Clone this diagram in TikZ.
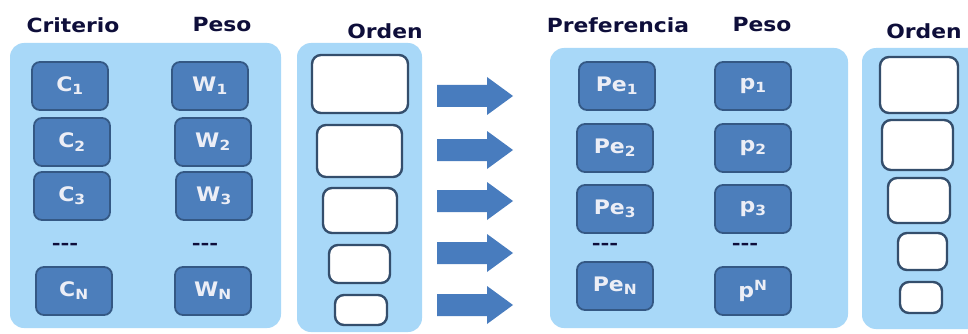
\documentclass[tikz,border=0pt]{standalone}
\usepackage{fontspec}
\setmainfont{DejaVu Sans}
\definecolor{panelblue}{RGB}{168,216,248}
\definecolor{boxblue}{RGB}{76,126,187}
\definecolor{boxedge}{RGB}{52,88,132}
\definecolor{whiteedge}{RGB}{52,78,108}
\definecolor{titlecol}{RGB}{14,14,58}
\definecolor{labcol}{RGB}{236,238,246}
\definecolor{arrowblue}{RGB}{72,124,190}
\tikzset{
  panel/.style={fill=panelblue, draw=none, rounded corners=14pt},
  darkbox/.style={fill=boxblue, draw=boxedge, line width=1.8pt, rounded corners=8pt,
    minimum width=76pt, minimum height=48pt, inner sep=0pt},
  lab/.style={text=labcol, font=\bfseries\fontsize{20}{22}\selectfont, inner sep=0pt, xscale=1.1},
  ordbox/.style={fill=white, draw=whiteedge, line width=2.4pt, rounded corners=9pt, inner sep=0pt},
  title/.style={text=titlecol, font=\bfseries\fontsize{19.5}{22}\selectfont, inner sep=0pt, xscale=1.12},
  dots/.style={text=titlecol, font=\bfseries\fontsize{17}{19}\selectfont, inner sep=0pt, xscale=1.25},
  pics/fatarrow/.style={code={
    \fill[arrowblue] (0,-11) -- (50,-11) -- (50,-19) -- (76,0) -- (50,19) -- (50,11) -- (0,11) -- cycle;}}
}
\newcommand{\dbox}[4]{%
  \node[darkbox] (#1) at (#2,#3) {};
  \node[lab] (#1l) at (#1.center) {#4};}
\begin{document}
\begin{tikzpicture}[x=1pt,y=-1pt]
\useasboundingbox (0,0) rectangle (968,334);
\fill[white] (0,0) rectangle (968,334);
% panels
\path[panel] (10,43) rectangle (281,328);
\path[panel] (297,43) rectangle (422,332);
\path[panel] (550,48) rectangle (848,328);
\path[panel] (862,48) rectangle (990,329);
% titles
\node[title] (tcrit) at (73,25) {Criterio};
\node[title] (tpeso1) at (222,25) {Peso};
\node[title] (torden1) at (385,31) {Orden};
\node[title] (tpref) at (618,25) {Preferencia};
\node[title] (tpeso2) at (762,25) {Peso};
\node[title] (torden2) at (924,31) {Orden};
% criterio column
\dbox{c1}{70}{86}{C\textsubscript{1}}
\dbox{c2}{72}{142}{C\textsubscript{2}}
\dbox{c3}{72}{196}{C\textsubscript{3}}
\node[dots] (cd) at (65,246) {{-}{-}{-}};
\dbox{cn}{74}{291}{C\textsubscript{N}}
% peso column
\dbox{w1}{210}{86}{W\textsubscript{1}}
\dbox{w2}{213}{142}{W\textsubscript{2}}
\dbox{w3}{214}{196}{W\textsubscript{3}}
\node[dots] (wd) at (205,246) {{-}{-}{-}};
\dbox{wn}{213}{291}{W\textsubscript{N}}
% orden column 1
\node[ordbox, minimum width=96pt, minimum height=58pt] (o1) at (360,84) {};
\node[ordbox, minimum width=85pt, minimum height=52pt] (o2) at (359.5,151) {};
\node[ordbox, minimum width=74pt, minimum height=45pt] (o3) at (360,210.5) {};
\node[ordbox, minimum width=61pt, minimum height=38pt] (o4) at (359.5,264) {};
\node[ordbox, minimum width=52pt, minimum height=30pt] (o5) at (361,310) {};
% arrows
\pic (a1) at (437,96) {fatarrow};
\pic (a2) at (437,150) {fatarrow};
\pic (a3) at (437,201) {fatarrow};
\pic (a4) at (437,253) {fatarrow};
\pic (a5) at (437,305) {fatarrow};
% preferencia column
\dbox{pe1}{617}{86}{Pe\textsubscript{1}}
\dbox{pe2}{615}{148}{Pe\textsubscript{2}}
\dbox{pe3}{615}{209}{Pe\textsubscript{3}}
\node[dots] (ped) at (605,246) {{-}{-}{-}};
\dbox{pen}{615}{286}{Pe\textsubscript{N}}
% peso column 2
\dbox{p1}{753}{86}{p\textsubscript{1}}
\dbox{p2}{753}{148}{p\textsubscript{2}}
\dbox{p3}{753}{209}{p\textsubscript{3}}
\node[dots] (pd) at (745,246) {{-}{-}{-}};
\dbox{pn}{753}{291}{p\textsuperscript{N}}
% orden column 2
\node[ordbox, minimum width=78pt, minimum height=56pt] (q1) at (919,85) {};
\node[ordbox, minimum width=71pt, minimum height=50pt] (q2) at (917.5,145) {};
\node[ordbox, minimum width=62pt, minimum height=45pt] (q3) at (919,200.5) {};
\node[ordbox, minimum width=49pt, minimum height=37pt] (q4) at (922.5,251.5) {};
\node[ordbox, minimum width=42pt, minimum height=31pt] (q5) at (921,297.5) {};
\end{tikzpicture}
\end{document}
